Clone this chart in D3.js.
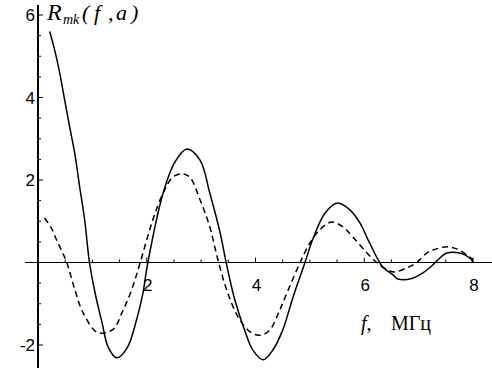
<!DOCTYPE html>
<html>
<head>
<meta charset="utf-8">
<script src="https://cdn.jsdelivr.net/npm/d3@7"></script>
<style>
  body { margin: 0; background: #fff; }
  svg { display: block; }
</style>
</head>
<body>
<div id="chart"></div>
<script>
// frequency f (MHz) and R values
const solidF = [0.215, 0.307, 0.40, 0.49, 0.583, 0.675, 0.767, 0.858, 0.947, 1.05, 1.18, 1.29, 1.45, 1.64, 1.82, 1.93, 2.02,
  2.30, 2.52, 2.74, 2.98, 3.16, 3.35, 3.46, 3.62, 3.80, 3.95, 4.14, 4.32, 4.50, 4.69, 4.91,
  5.05, 5.28, 5.51, 5.74, 5.92, 6.10, 6.34, 6.53, 6.62, 6.89, 7.08, 7.26, 7.39, 7.52, 7.76, 7.94, 8.0];
const solidR = [5.60, 5.15, 4.59, 3.94, 3.28, 2.65, 1.83, 1.03, 0.0, -0.74, -1.47, -2.05, -2.31, -2.07, -1.35, -0.74, 0.0,
  1.68, 2.44, 2.75, 2.48, 1.68, 0.72, 0.0, -0.91, -1.64, -2.12, -2.36, -2.12, -1.64, -0.84, 0.0,
  0.55, 1.2, 1.44, 1.27, 0.96, 0.47, -0.11, -0.30, -0.40, -0.38, -0.25, -0.06, 0.11, 0.23, 0.23, 0.11, 0.01];

const dashF = [0.12, 0.245, 0.34, 0.43, 0.53, 0.68, 0.83, 1.10, 1.38, 1.55, 1.72, 1.88,
  2.11, 2.30, 2.48, 2.65, 2.79, 2.98, 3.16, 3.31, 3.49, 3.71, 3.93, 4.10, 4.26, 4.43, 4.60, 4.82,
  5.0, 5.18, 5.40, 5.61, 5.79, 6.05, 6.23, 6.43, 6.56, 6.78, 6.97, 7.15, 7.33, 7.52, 7.70, 7.89, 8.0];
const dashR = [1.08, 0.84, 0.55, 0.30, 0.0, -0.67, -1.22, -1.70, -1.62, -1.2, -0.67, 0.0,
  1.03, 1.68, 2.07, 2.15, 2.07, 1.52, 0.86, 0.06, -0.74, -1.39, -1.71, -1.76, -1.64, -1.2, -0.67, 0.0,
  0.47, 0.79, 0.98, 0.86, 0.62, 0.23, 0.0, -0.18, -0.23, -0.13, 0.0, 0.23, 0.33, 0.38, 0.33, 0.18, 0.06];

const xLabels = [2, 4, 6, 8];
const yLabels = [-2, 2, 4, 6];

const width = 492;
const height = 375;

const svg = d3.select("#chart").append("svg")
  .attr("width", width)
  .attr("height", height);

const x = d3.scaleLinear().domain([0, 8]).range([38, 473]);
const y = d3.scaleLinear().domain([-2, 6]).range([345, 15]);

// axes lines
svg.append("line")
  .attr("x1", x(-0.24)).attr("x2", x(8.35))
  .attr("y1", y(0)).attr("y2", y(0))
  .attr("stroke", "#000").attr("stroke-width", 1);

svg.append("line")
  .attr("x1", x(0)).attr("x2", x(0))
  .attr("y1", y(6.24)).attr("y2", y(-2.56))
  .attr("stroke", "#000").attr("stroke-width", 2);

// ticks every 0.5, longer on the labelled ones
const xTicks = d3.range(0.5, 8.01, 0.5);
svg.append("g").selectAll("line")
  .data(xTicks)
  .join("line")
  .attr("x1", d => x(d)).attr("x2", d => x(d))
  .attr("y1", y(0))
  .attr("y2", d => y(0) - (d % 2 === 0 ? 5 : 3))
  .attr("stroke", "#000").attr("stroke-width", 1);

const yTicks = d3.range(-2, 6.01, 0.5).filter(d => d !== 0);
svg.append("g").selectAll("line")
  .data(yTicks)
  .join("line")
  .attr("y1", d => y(d)).attr("y2", d => y(d))
  .attr("x1", x(0))
  .attr("x2", d => x(0) + (d % 2 === 0 ? 5 : 3))
  .attr("stroke", "#000").attr("stroke-width", 1);

// tick labels
svg.append("g").selectAll("text")
  .data(xLabels)
  .join("text")
  .attr("x", d => x(d) + 1)
  .attr("y", y(0) + 28)
  .attr("text-anchor", "middle")
  .attr("font-family", "Liberation Sans, Arial, sans-serif")
  .attr("font-size", 17)
  .text(d => d);

svg.append("g").selectAll("text")
  .data(yLabels)
  .join("text")
  .attr("x", x(0) - 3)
  .attr("y", d => y(d) + 6)
  .attr("text-anchor", "end")
  .attr("font-family", "Liberation Sans, Arial, sans-serif")
  .attr("font-size", 17)
  .text(d => d < 0 ? "-" + Math.abs(d) : d);

// curves
const line = d3.line()
  .x(d => x(d[0]))
  .y(d => y(d[1]))
  .curve(d3.curveCatmullRom.alpha(0.5));

svg.append("path")
  .attr("d", line(d3.zip(solidF, solidR)))
  .attr("fill", "none")
  .attr("stroke", "#000")
  .attr("stroke-width", 1.5);

svg.append("path")
  .attr("d", line(d3.zip(dashF, dashR)))
  .attr("fill", "none")
  .attr("stroke", "#000")
  .attr("stroke-width", 1.5)
  .attr("stroke-dasharray", "6,4");

// title R_mk(f, a)
const serif = "Liberation Serif, Times New Roman, serif";
const title = [
  { t: "R", x: 47, y: 20, s: 24 },
  { t: "mk", x: 63, y: 24, s: 14 },
  { t: "(", x: 82, y: 20, s: 22 },
  { t: "f", x: 94, y: 20, s: 22 },
  { t: ",", x: 108, y: 20, s: 22 },
  { t: "a", x: 116, y: 20, s: 22 },
  { t: ")", x: 131, y: 20, s: 22 },
];
svg.append("g").selectAll("text")
  .data(title)
  .join("text")
  .attr("x", d => d.x)
  .attr("y", d => d.y)
  .attr("font-family", serif)
  .attr("font-style", "italic")
  .attr("font-size", d => d.s)
  .text(d => d.t);

// x axis label
svg.append("text")
  .attr("x", 361).attr("y", 330)
  .attr("font-family", serif)
  .attr("font-style", "italic")
  .attr("font-size", 20)
  .text("f,");

svg.append("text")
  .attr("x", 391).attr("y", 330)
  .attr("font-family", serif)
  .attr("font-size", 20)
  .text("МГц");
</script>
</body>
</html>
